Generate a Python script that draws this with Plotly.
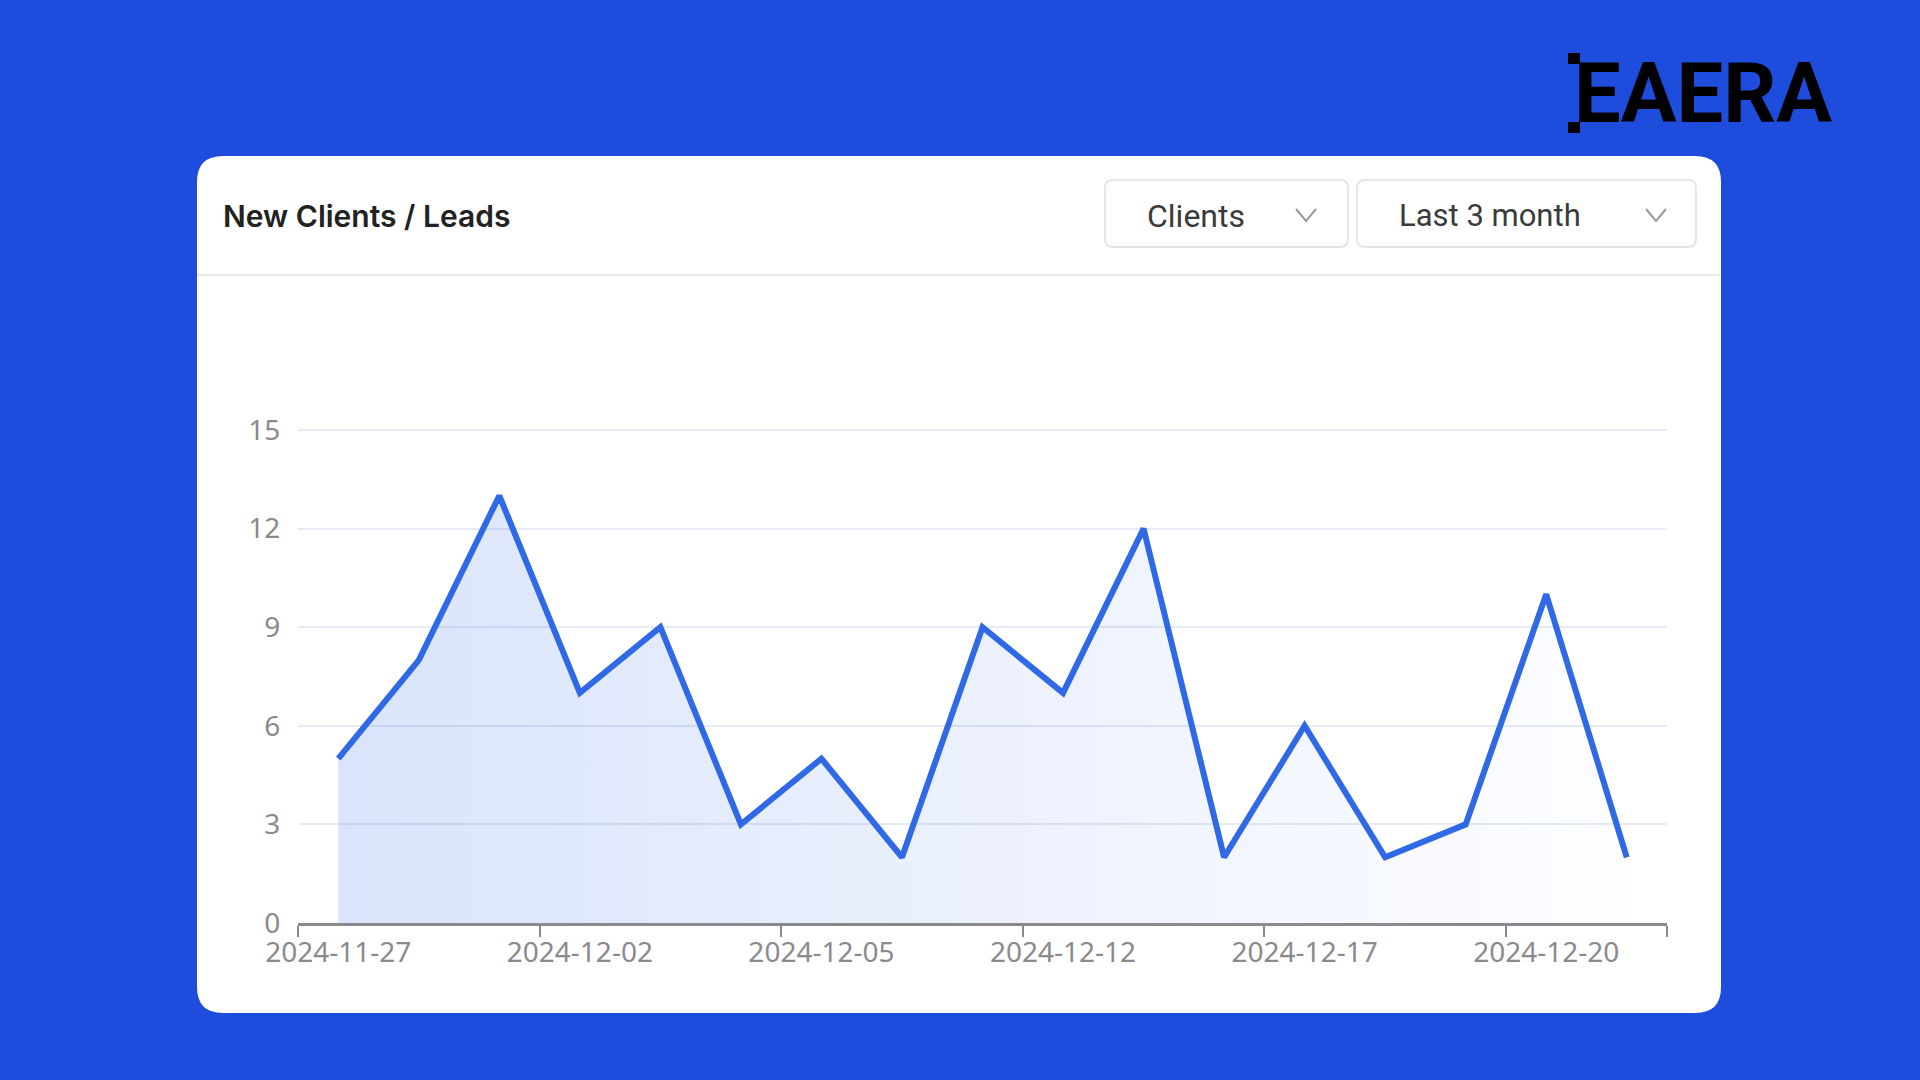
import plotly.graph_objects as go

W = 1920
H = 1080

days = list(range(17))
clients = [5, 8, 13, 7, 9, 3, 5, 2, 9, 7, 12, 2, 6, 2, 3, 10, 2]
label_days = [0, 3, 6, 9, 12, 15]
date_labels = ["2024-11-27", "2024-12-02", "2024-12-05", "2024-12-12", "2024-12-17", "2024-12-20"]
y_ticks = [0, 3, 6, 9, 12, 15]
tick_edges = [-0.5, 2.5, 5.5, 8.5, 11.5, 14.5, 16.5]

BLUE = "#1e4cdd"
LINE = "#3069e6"
GREY = "#8a8a8e"


# everything outside the axes is placed in screen pixels
def px(x):
    return x / W


def py(y):
    return 1 - y / H


def round_box(x0, y0, x1, y1, r):
    return (
        f"M {px(x0 + r)} {py(y0)} L {px(x1 - r)} {py(y0)} "
        f"Q {px(x1)} {py(y0)} {px(x1)} {py(y0 + r)} L {px(x1)} {py(y1 - r)} "
        f"Q {px(x1)} {py(y1)} {px(x1 - r)} {py(y1)} L {px(x0 + r)} {py(y1)} "
        f"Q {px(x0)} {py(y1)} {px(x0)} {py(y1 - r)} L {px(x0)} {py(y0 + r)} "
        f"Q {px(x0)} {py(y0)} {px(x0 + r)} {py(y0)} Z"
    )


def chevron(x0, x1, y0, y1):
    xm = (x0 + x1) / 2
    return f"M {px(x0)} {py(y0)} L {px(xm)} {py(y1)} L {px(x1)} {py(y0)}"


def square(x0, y0, x1, y1):
    return dict(type="rect", xref="paper", yref="paper", x0=px(x0), x1=px(x1), y0=py(y0), y1=py(y1),
                fillcolor="black", line_width=0, layer="above")


shapes = [
    dict(type="path", xref="paper", yref="paper", path=round_box(197, 156, 1721, 1013, 26),
         fillcolor="white", line_width=0, layer="below"),
    dict(type="line", xref="paper", yref="paper", x0=px(197), x1=px(1721), y0=py(275), y1=py(275),
         line=dict(color="#e6e8ec", width=2), layer="below"),
    dict(type="path", xref="paper", yref="paper", path=round_box(1105, 180, 1348, 247, 8),
         fillcolor="white", line=dict(color="#e6e6e8", width=2), layer="below"),
    dict(type="path", xref="paper", yref="paper", path=round_box(1357, 180, 1696, 247, 8),
         fillcolor="white", line=dict(color="#e6e6e8", width=2), layer="below"),
    dict(type="path", xref="paper", yref="paper", path=chevron(1296, 1316, 209, 221),
         line=dict(color="#9a9a9e", width=2), layer="below"),
    dict(type="path", xref="paper", yref="paper", path=chevron(1646, 1666, 209, 221),
         line=dict(color="#9a9a9e", width=2), layer="below"),
    square(1568, 53, 1580, 64),
    square(1568, 122, 1580, 133),
]

fig = go.Figure()
fig.add_trace(go.Scatter(
    x=days,
    y=clients,
    mode="lines",
    line=dict(color=LINE, width=6),
    fill="tozeroy",
    fillgradient=dict(type="horizontal", colorscale=[[0, "rgba(48,105,230,0.18)"], [1, "rgba(48,105,230,0.01)"]]),
    hoverinfo="skip",
))

fig.update_layout(
    width=W,
    height=H,
    margin=dict(l=0, r=0, t=0, b=0),
    paper_bgcolor=BLUE,
    plot_bgcolor="rgba(0,0,0,0)",
    showlegend=False,
    shapes=shapes,
    font=dict(family="Noto Sans", color=GREY, size=28),
    xaxis=dict(
        domain=[px(298), px(1667)],
        range=[-0.5, 16.5],
        automargin=False,
        showgrid=False,
        zeroline=False,
        showline=True,
        linecolor=GREY,
        linewidth=3,
        tickmode="array",
        tickvals=label_days,
        ticktext=date_labels,
        ticks="outside",
        ticklen=2,
        tickcolor="rgba(0,0,0,0)",
        minor=dict(tickmode="array", tickvals=tick_edges, ticks="outside", ticklen=11, tickwidth=2, tickcolor=GREY),
    ),
    yaxis=dict(
        # top of the range goes a little past 15 so the top gridline is drawn
        domain=[py(923), py(426.7)],
        range=[0, 15.1],
        automargin=False,
        tickmode="array",
        tickvals=y_ticks,
        showgrid=True,
        gridcolor="#e6ebf6",
        gridwidth=2,
        zeroline=False,
        showline=False,
        ticks="outside",
        ticklen=11,
        tickcolor="rgba(0,0,0,0)",
    ),
)

fig.add_annotation(xref="paper", yref="paper", x=px(221), y=py(216), text="New Clients / Leads",
                   showarrow=False, xanchor="left", yanchor="middle",
                   font=dict(family="Inter", size=30, weight=600, color="#222222"))
fig.add_annotation(xref="paper", yref="paper", x=px(1145), y=py(216), text="Clients",
                   showarrow=False, xanchor="left", yanchor="middle",
                   font=dict(family="Roboto", size=32, color="#3a3a3a"))
fig.add_annotation(xref="paper", yref="paper", x=px(1397), y=py(216), text="Last 3 month",
                   showarrow=False, xanchor="left", yanchor="middle",
                   font=dict(family="Roboto", size=31, color="#3a3a3a"))
fig.add_annotation(xref="paper", yref="paper", x=px(1572), y=py(93), text="EAERA",
                   showarrow=False, xanchor="left", yanchor="middle",
                   font=dict(family="Roboto", size=83, weight=700, color="black"))

fig.write_html("out.html", post_script="document.body.style.margin='0'", config=dict(displayModeBar=False))
